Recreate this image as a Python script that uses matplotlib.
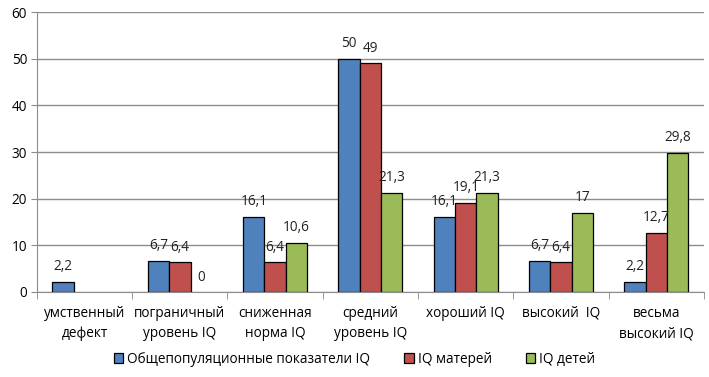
import matplotlib
matplotlib.use("Agg")
import matplotlib.pyplot as plt
import numpy as np

categories = ["умственный\nдефект", "пограничный\nуровень IQ", "сниженная\nнорма IQ",
              "средний\nуровень IQ", "хороший IQ", "высокий  IQ", "весьма\nвысокий IQ"]
series_names = ["Общепопуляционные показатели IQ", "IQ матерей", "IQ детей"]
general = [2.2, 6.7, 16.1, 50, 16.1, 6.7, 2.2]
mothers = [None, 6.4, 6.4, 49, 19.1, 6.4, 12.7]
children = [None, 0, 10.6, 21.3, 21.3, 17, 29.8]
colors = ["#4F81BD", "#C0504D", "#9BBB59"]
yticks = [0, 10, 20, 30, 40, 50, 60]

plt.rcParams['font.family'] = ['Open Sans', 'DejaVu Sans']
fig = plt.figure(figsize=(7.09, 3.77), dpi=100)
ax = fig.add_axes([0.052, 0.2255, 0.941, 0.7425])

x = np.arange(len(categories))
w = 0.224
for i, (vals, c, name) in enumerate(zip([general, mothers, children], colors, series_names)):
    pos = x + (i - 1) * w
    px = [p for p, v in zip(pos, vals) if v is not None and v > 0]
    h = [v for v in vals if v is not None and v > 0]
    ax.bar(px, h, w, color=c, edgecolor="black", linewidth=0.9, label=name, zorder=3)
    for p, v in zip(pos, vals):
        if v is None:
            continue
        ax.text(p, v + 1.6, f"{v:g}".replace(".", ","), ha="center", va="bottom",
                fontsize=9.8, color="#222222", zorder=4)

ax.set_xlim(-0.5, len(categories) - 0.5)
ax.set_ylim(0, 60)
ax.set_yticks(yticks)
ax.set_yticklabels([str(t) for t in yticks], fontsize=9.8)
ax.yaxis.grid(True, color="#8c8c8c", linewidth=1.0, zorder=0)
ax.set_xticks(x)
ax.set_xticklabels(categories, fontsize=9.8, linespacing=1.5)
ax.tick_params(axis="x", length=0, pad=10)
ax.set_xticks(np.arange(-0.5, len(categories) + 0.5, 1), minor=True)
ax.tick_params(axis="x", which="minor", length=5, color="#8c8c8c", direction="out")
ax.tick_params(axis="y", length=4, color="#8c8c8c", direction="out", pad=3)
for s in ["top", "right"]:
    ax.spines[s].set_visible(False)
for s in ["left", "bottom"]:
    ax.spines[s].set_color("#8c8c8c")
    ax.spines[s].set_zorder(5)

leg = fig.legend(loc="lower center", bbox_to_anchor=(0.5, -0.005), ncol=3, frameon=False,
                 fontsize=9.8, handlelength=0.7, handleheight=0.7, handletextpad=0.3,
                 columnspacing=2.5)
fig.savefig("out.png", dpi=100)
